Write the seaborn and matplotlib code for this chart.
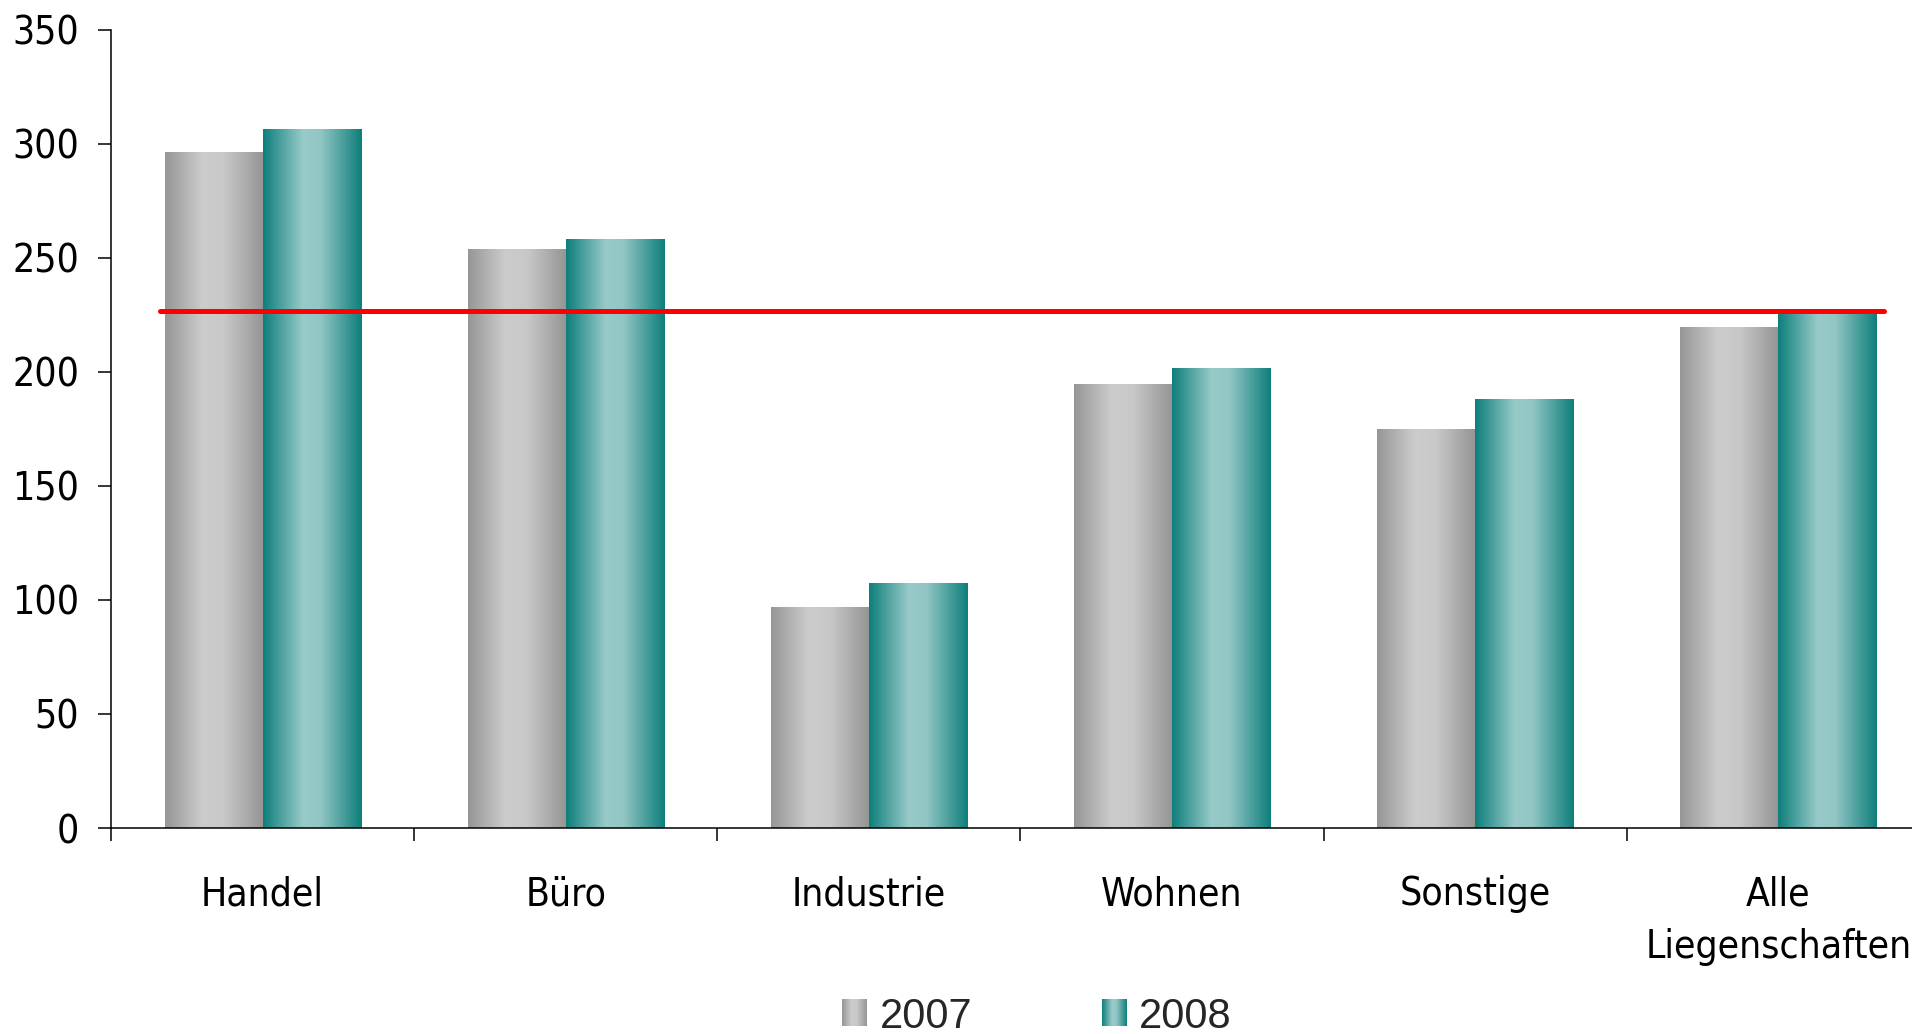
import numpy as np
import pandas as pd
import seaborn as sns
import matplotlib
matplotlib.use("Agg")
import matplotlib.pyplot as plt
from matplotlib.colors import LinearSegmentedColormap
from matplotlib.legend_handler import HandlerBase
from matplotlib.image import BboxImage
from matplotlib.transforms import Bbox, TransformedBbox
from matplotlib.patches import Rectangle
from matplotlib.font_manager import FontProperties

# --- data -------------------------------------------------------------
categories = ["Handel", "Büro", "Industrie", "Wohnen", "Sonstige", "Alle\nLiegenschaften"]
years = ["2007", "2008"]
values_2007 = [296, 253.5, 96.5, 194.5, 174.5, 219.5]
values_2008 = [306, 258, 107, 201.5, 188, 226]
reference_level = 226.5
y_ticks = [0, 50, 100, 150, 200, 250, 300, 350]

df = pd.DataFrame({
    "Kategorie": categories * 2,
    "Jahr": [years[0]] * len(categories) + [years[1]] * len(categories),
    "Wert": values_2007 + values_2008,
})

# --- style ------------------------------------------------------------
sns.set_theme(style="white")
plt.rcParams["font.family"] = ["DejaVu Sans"]

W, H = 1912, 1034
fig = plt.figure(figsize=(W / 100, H / 100), dpi=100)
ax = fig.add_axes([111 / W, 206 / H, 1819 / W, 798.5 / H])

# horizontal "cylinder" shading for the two series
cmaps = {
    "2007": LinearSegmentedColormap.from_list(
        "grau", [(0, "#969696"), (0.38, "#cccccc"), (0.6, "#c8c8c8"), (1, "#949494")]),
    "2008": LinearSegmentedColormap.from_list(
        "petrol", [(0, "#0e7f7b"), (0.4, "#97cac9"), (0.58, "#92c6c5"), (1, "#0e7f7b")]),
}
grad = np.linspace(0, 1, 256)[None, :]

palette = {"2007": "#b8b8b8", "2008": "#5aa8a5"}
sns.barplot(data=df, x="Kategorie", y="Wert", hue="Jahr", order=categories,
            hue_order=years, palette=palette, width=0.647, saturation=1,
            edgecolor="none", linewidth=0, legend=False, ax=ax)

# paint a gradient over every bar drawn by seaborn
for year, container in zip(years, ax.containers):
    for bar in container:
        x0, y0 = bar.get_x(), bar.get_y()
        w, h = bar.get_width(), bar.get_height()
        ax.imshow(grad, cmap=cmaps[year], extent=(x0, x0 + w, y0, y0 + h),
                  aspect="auto", interpolation="bilinear",
                  zorder=bar.get_zorder() + 0.1)

# reference line (average level)
ax.axhline(reference_level, xmin=0.0269, xmax=0.9747, color="#ff0000",
           linewidth=3.6, zorder=5)

# --- axes -------------------------------------------------------------
ax.set_xlim(-0.5, len(categories) - 0.5)
ax.set_ylim(0, 350)
ax.set_yticks(y_ticks)
ax.set_xticks(range(len(categories)))
ax.set_xticklabels(categories)
ax.set_xticks(np.arange(-0.5, len(categories), 1), minor=True)
ax.set_xlabel("")
ax.set_ylabel("")

for s in ("top", "right"):
    ax.spines[s].set_visible(False)
for s in ("left", "bottom"):
    ax.spines[s].set_color("black")
    ax.spines[s].set_linewidth(1.1)

tick_font = dict(family="DejaVu Sans", size=28, stretch="condensed")
ax.tick_params(axis="y", left=True, length=9.4, width=1.1, color="black",
               direction="out", pad=13.5, labelcolor="black")
ax.tick_params(axis="x", which="major", bottom=True, length=0, pad=34,
               labelcolor="black")
ax.tick_params(axis="x", which="minor", bottom=True, length=9.4, width=1.1,
               color="black", direction="out")
for lab in ax.get_yticklabels() + ax.get_xticklabels():
    lab.set_fontproperties(FontProperties(**tick_font))
for lab in ax.get_xticklabels():
    lab.set_linespacing(1.5)

# --- legend with shaded squares --------------------------------------
class GradientHandler(HandlerBase):
    def __init__(self, cmap):
        super().__init__()
        self.cmap = cmap

    def create_artists(self, legend, orig_handle, xdescent, ydescent,
                       width, height, fontsize, trans):
        bb = Bbox.from_bounds(-xdescent, -ydescent, width, height)
        img = BboxImage(TransformedBbox(bb, trans), cmap=self.cmap,
                        interpolation="bilinear", origin="lower")
        img.set_data(grad)
        return [img]


handles = [Rectangle((0, 0), 1, 1) for _ in years]
fig.legend(handles, years, loc="center", bbox_to_anchor=(0.5424, 0.0165),
           ncol=2, frameon=False,
           prop=FontProperties(family="Liberation Sans", size=30),
           handlelength=0.6, handleheight=0.6, handletextpad=0.3,
           columnspacing=3.1, borderpad=0, borderaxespad=0,
           handler_map={h: GradientHandler(cmaps[y]) for h, y in zip(handles, years)})

fig.savefig("out.png", dpi=100, facecolor="white")
